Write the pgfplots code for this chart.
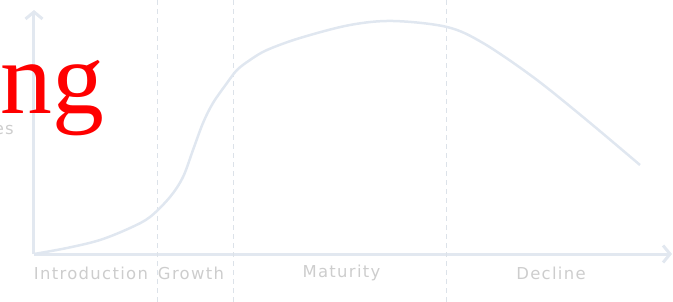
\documentclass[border=0pt]{standalone}
\usepackage{fontspec}
\setmainfont{DejaVu Sans}[LetterSpace=8]
\newfontfamily\redserif{Liberation Serif}
\usepackage{pgfplots}
\pgfplotsset{compat=1.18}
\usetikzlibrary{arrows.meta}
\definecolor{axc}{HTML}{E2E8F0}
\definecolor{curvec}{HTML}{E0E7F0}
\definecolor{dashc}{HTML}{DCE2E9}
\definecolor{txtc}{HTML}{CDCDCD}
\begin{document}
\begin{tikzpicture}
\begin{axis}[
  scale only axis, width=638bp, height=244bp,
  xmin=0, xmax=638, ymin=0, ymax=244,
  axis lines=left,
  axis line style={line width=3bp, axc, -{Straight Barb[length=7bp,width=17bp,line width=3bp]}},
  xtick=\empty, ytick=\empty,
  clip=false,
]
\coordinate (bl) at (axis cs:-34,-48);
\coordinate (tr) at (axis cs:639,254);
\addplot[dashc, line width=1bp, dash pattern=on 5bp off 4bp] coordinates {(123,-48) (123,254)};
\addplot[dashc, line width=1bp, dash pattern=on 5bp off 4bp] coordinates {(199,-48) (199,254)};
\addplot[dashc, line width=1bp, dash pattern=on 5bp off 4bp] coordinates {(412,-48) (412,254)};
\addplot[curvec, line width=2.5bp, smooth, tension=0.55] coordinates {
  (0,0) (33,6) (66,14) (96,26) (116,37) (136,57) (149,77) (159,104) (169,131)
  (179,151) (193,171) (203,184) (216,194) (233,204) (266,216) (316,229)
  (359,233) (413,227) (449,211) (499,177) (549,137) (606,89)
};
\node[txtc, font=\fontsize{16.5}{19}\selectfont] at (axis cs:57,-19) {Introduction};
\node[txtc, font=\fontsize{16.5}{19}\selectfont] at (axis cs:157,-19) {Growth};
\node[txtc, font=\fontsize{16.5}{19}\selectfont] at (axis cs:307.5,-19) {Maturity};
\node[txtc, font=\fontsize{16.5}{19}\selectfont] at (axis cs:517,-19) {Decline};
\node[txtc, font=\fontsize{16.5}{19}\selectfont, anchor=east, inner sep=0pt] at (axis cs:-20,126) {Sales};
\node[red, font=\redserif\fontsize{104}{120}\selectfont, anchor=base west, inner sep=0pt] at (axis cs:-34,140) {ng};
\end{axis}
\pgfresetboundingbox
\path[use as bounding box] (bl) rectangle (tr);
\end{tikzpicture}
\end{document}
